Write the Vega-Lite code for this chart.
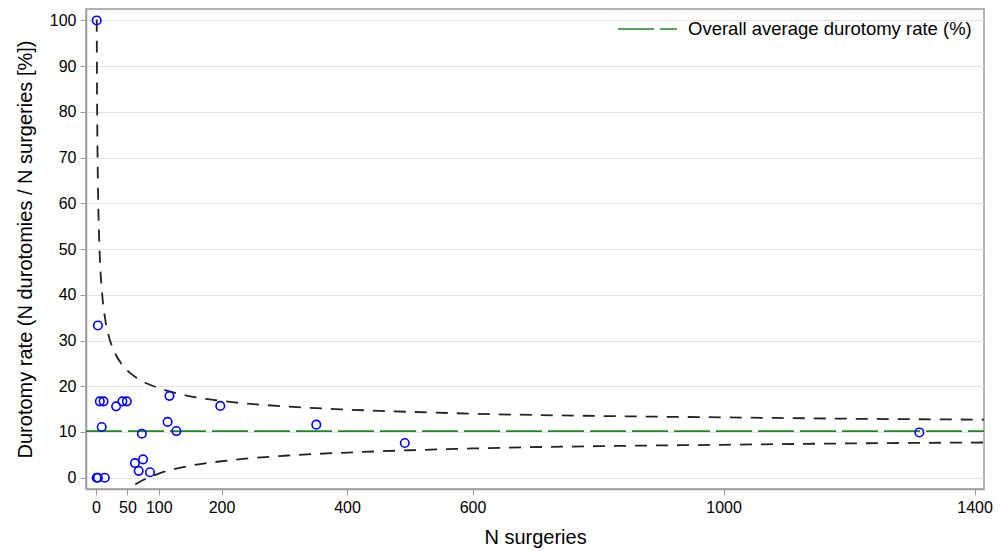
{
  "$schema": "https://vega.github.io/schema/vega-lite/v6.json",
  "width": 898,
  "height": 480,
  "autosize": "none",
  "padding": {"left": 86, "top": 9, "right": 19, "bottom": 62},
  "background": "white",
  "datasets": {
    "hospitals": [
      {"n": 1, "rate": 100},
      {"n": 1, "rate": 0},
      {"n": 3, "rate": 0},
      {"n": 14, "rate": 0},
      {"n": 3, "rate": 33.3},
      {"n": 6, "rate": 16.7},
      {"n": 12, "rate": 16.7},
      {"n": 9, "rate": 11.1},
      {"n": 32, "rate": 15.6},
      {"n": 42, "rate": 16.7},
      {"n": 49, "rate": 16.7},
      {"n": 73, "rate": 9.6},
      {"n": 62, "rate": 3.2},
      {"n": 75, "rate": 4.0},
      {"n": 68, "rate": 1.5},
      {"n": 86, "rate": 1.2},
      {"n": 117, "rate": 17.9},
      {"n": 114, "rate": 12.2},
      {"n": 128, "rate": 10.2},
      {"n": 198, "rate": 15.7},
      {"n": 351, "rate": 11.6},
      {"n": 492, "rate": 7.6},
      {"n": 1312, "rate": 9.9}
    ],
    "limits": [
      {"n": 1.08, "limit": "upper", "rate": 100.2},
      {"n": 1.5, "limit": "upper", "rate": 86.6},
      {"n": 2, "limit": "upper", "rate": 76.3},
      {"n": 3, "limit": "upper", "rate": 64.2},
      {"n": 4, "limit": "upper", "rate": 57.0},
      {"n": 5, "limit": "upper", "rate": 52.0},
      {"n": 7, "limit": "upper", "rate": 45.5},
      {"n": 10, "limit": "upper", "rate": 39.8},
      {"n": 15, "limit": "upper", "rate": 34.3},
      {"n": 20, "limit": "upper", "rate": 31.1},
      {"n": 30, "limit": "upper", "rate": 27.3},
      {"n": 40, "limit": "upper", "rate": 25.0},
      {"n": 50, "limit": "upper", "rate": 23.4},
      {"n": 60, "limit": "upper", "rate": 22.3},
      {"n": 75, "limit": "upper", "rate": 21.0},
      {"n": 100, "limit": "upper", "rate": 19.6},
      {"n": 150, "limit": "upper", "rate": 17.8},
      {"n": 200, "limit": "upper", "rate": 16.8},
      {"n": 300, "limit": "upper", "rate": 15.6},
      {"n": 400, "limit": "upper", "rate": 14.9},
      {"n": 500, "limit": "upper", "rate": 14.4},
      {"n": 600, "limit": "upper", "rate": 14.0},
      {"n": 800, "limit": "upper", "rate": 13.5},
      {"n": 1000, "limit": "upper", "rate": 13.2},
      {"n": 1200, "limit": "upper", "rate": 12.9},
      {"n": 1415, "limit": "upper", "rate": 12.7},
      {"n": 38, "limit": "lower", "rate": -4.6},
      {"n": 43, "limit": "lower", "rate": -3.7},
      {"n": 48, "limit": "lower", "rate": -3.0},
      {"n": 58, "limit": "lower", "rate": -1.9},
      {"n": 75, "limit": "lower", "rate": -0.5},
      {"n": 100, "limit": "lower", "rate": 0.9},
      {"n": 150, "limit": "lower", "rate": 2.6},
      {"n": 200, "limit": "lower", "rate": 3.6},
      {"n": 300, "limit": "lower", "rate": 4.8},
      {"n": 400, "limit": "lower", "rate": 5.5},
      {"n": 500, "limit": "lower", "rate": 6.0},
      {"n": 600, "limit": "lower", "rate": 6.4},
      {"n": 800, "limit": "lower", "rate": 6.9},
      {"n": 1000, "limit": "lower", "rate": 7.2},
      {"n": 1200, "limit": "lower", "rate": 7.5},
      {"n": 1415, "limit": "lower", "rate": 7.7}
    ],
    "average": [
      {"label": "Overall average durotomy rate (%)", "rate": 10.2}
    ]
  },
  "encoding": {
    "x": {
      "field": "n",
      "type": "quantitative",
      "title": "N surgeries",
      "scale": {"domain": [-16, 1415], "nice": false, "zero": false},
      "axis": {
        "values": [0, 50, 100, 200, 400, 600, 1000, 1400],
        "format": "d",
        "grid": false,
        "titlePadding": 12
      }
    },
    "y": {
      "field": "rate",
      "type": "quantitative",
      "title": "Durotomy rate (N durotomies / N surgeries [%])",
      "scale": {"domain": [-2.47, 102.5], "nice": false, "zero": false},
      "axis": {
        "values": [0, 10, 20, 30, 40, 50, 60, 70, 80, 90, 100],
        "grid": true,
        "titlePadding": 14
      }
    }
  },
  "layer": [
    {
      "data": {"name": "limits"},
      "mark": {
        "type": "line",
        "clip": true,
        "interpolate": "monotone",
        "color": "#222222",
        "strokeWidth": 1.8,
        "strokeDash": [12, 9]
      },
      "encoding": {
        "detail": {"field": "limit", "type": "nominal"}
      }
    },
    {
      "data": {"name": "average"},
      "mark": {"type": "rule", "strokeWidth": 1.8, "strokeDash": [36, 6]},
      "encoding": {
        "x": {"value": 0},
        "x2": {"value": 898},
        "color": {
          "field": "label",
          "type": "nominal",
          "scale": {"range": ["#1a8a1a"]},
          "legend": {
            "title": null,
            "orient": "none",
            "legendX": 531,
            "legendY": -10.5,
            "padding": 0,
            "symbolType": "stroke",
            "symbolSize": 3481,
            "symbolDash": [36, 6],
            "symbolStrokeWidth": 1.5,
            "labelFontSize": 18.5,
            "labelFont": "Liberation Sans",
            "labelColor": "#000000",
            "labelOffset": 10,
            "labelLimit": 0
          }
        }
      }
    },
    {
      "data": {"name": "hospitals"},
      "mark": {
        "type": "point",
        "shape": "circle",
        "filled": false,
        "color": "#0000ff",
        "size": 72,
        "strokeWidth": 1.6,
        "opacity": 1
      }
    }
  ],
  "config": {
    "font": "Liberation Sans",
    "view": {"stroke": "#9a9a9a", "strokeWidth": 1.5},
    "axis": {
      "labelFont": "Liberation Sans",
      "titleFont": "Liberation Sans",
      "labelFontSize": 16,
      "titleFontSize": 20,
      "titleFontWeight": "normal",
      "labelColor": "#000000",
      "titleColor": "#000000",
      "domainColor": "#9a9a9a",
      "domainWidth": 1.5,
      "tickColor": "#9a9a9a",
      "tickSize": 6,
      "gridColor": "#e3e3e3",
      "gridWidth": 1,
      "labelPadding": 4
    }
  }
}
